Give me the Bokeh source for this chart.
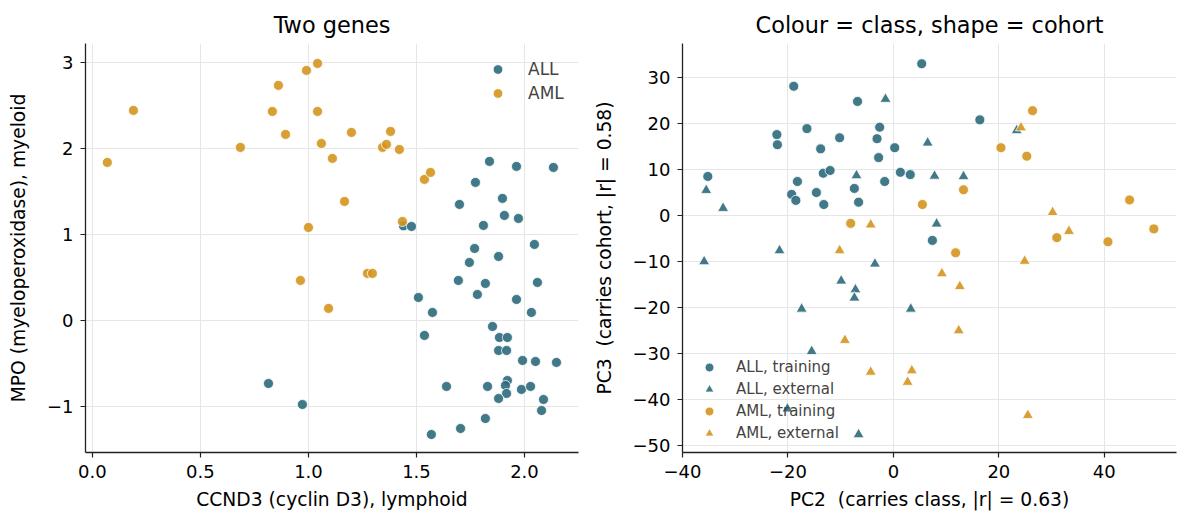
import numpy as np
from bokeh.plotting import figure
from bokeh.layouts import row
from bokeh.models import FixedTicker, Legend, LegendItem, Range1d
from bokeh.embed import file_html
from bokeh.resources import INLINE

# left panel: two genes, coloured by class
all_ccnd3 = [1.44, 1.477, 1.838, 1.963, 2.134, 1.773, 1.898, 1.699, 1.907, 1.972,
             1.810, 2.046, 1.769, 1.880, 1.745, 1.694, 1.819, 2.060, 1.509, 1.782,
             1.963, 1.574, 2.032, 1.852, 1.884, 1.921, 1.880, 1.917, 1.537, 1.991,
             2.051, 2.148, 0.815, 0.972, 1.639, 1.829, 1.921, 1.912, 1.917, 1.880,
             1.986, 2.028, 2.088, 2.079, 1.819, 1.704, 1.569]
all_mpo = [1.10, 1.093, 1.849, 1.791, 1.779, 1.605, 1.419, 1.349, 1.221, 1.186,
           1.105, 0.884, 0.837, 0.744, 0.674, 0.465, 0.430, 0.442, 0.267, 0.302,
           0.244, 0.093, 0.093, -0.070, -0.198, -0.198, -0.349, -0.349, -0.174, -0.465,
           -0.477, -0.488, -0.733, -0.977, -0.767, -0.767, -0.698, -0.756, -0.849, -0.907,
           -0.802, -0.767, -0.919, -1.047, -1.140, -1.256, -1.326]
aml_ccnd3 = [0.069, 0.190, 0.685, 0.833, 0.861, 0.894, 0.991, 1.042, 1.042, 1.060,
             1.111, 1.199, 1.167, 1.000, 0.963, 1.093, 1.273, 1.296, 1.343, 1.361,
             1.380, 1.421, 1.537, 1.565, 1.435]
aml_mpo = [1.837, 2.442, 2.012, 2.430, 2.733, 2.163, 2.907, 2.988, 2.430, 2.058,
           1.884, 2.186, 1.384, 1.081, 0.465, 0.140, 0.547, 0.547, 2.012, 2.047,
           2.198, 1.988, 1.640, 1.721, 1.151]

# right panel: PC2 vs PC3, colour = class, shape = cohort
all_train_pc2 = [5.37, -18.9, -6.8, -22.1, -22.0, -16.4, -10.2, -13.8, -2.6, -3.1,
                 0.25, -2.8, -35.2, -13.3, -12.0, -18.2, -19.3, -18.5, -14.6, -13.2,
                 -7.4, -6.6, -1.65, 1.33, 3.2, 7.4, 16.4]
all_train_pc3 = [32.9, 28.0, 24.7, 17.5, 15.3, 18.8, 16.8, 14.4, 19.1, 16.6,
                 14.65, 12.5, 8.4, 9.1, 9.7, 7.3, 4.5, 3.2, 4.9, 2.3,
                 5.8, 2.8, 7.3, 9.3, 8.8, -5.5, 20.7]
all_ext_pc2 = [-1.5, 6.5, -35.5, -32.3, -7.0, 7.8, 8.2, -21.6, -35.9, -3.5,
               -9.9, -7.2, -7.4, -17.4, 3.3, -15.5, -20.1, -6.6, 23.4, 13.3]
all_ext_pc3 = [25.2, 15.7, 5.4, 1.5, 8.6, 8.5, -1.9, -7.7, -10.1, -10.6,
               -14.3, -16.2, -18.0, -20.4, -20.4, -29.6, -42.1, -47.7, 18.4, 8.4]
aml_train_pc2 = [5.5, -8.1, 26.4, 20.4, 25.3, 13.3, 11.8, 31.0, 40.7, 44.8, 49.4]
aml_train_pc3 = [2.3, -1.8, 22.7, 14.65, 12.8, 5.5, -8.2, -4.9, -5.8, 3.3, -3.0]
aml_ext_pc2 = [-4.3, -10.2, -9.2, -4.3, 3.5, 2.7, 24.2, 9.2, 12.6, 12.4,
               24.9, 30.2, 33.3, 25.5]
aml_ext_pc3 = [-2.1, -7.7, -27.2, -34.1, -33.8, -36.3, 19.0, -12.7, -15.5, -25.1,
               -10.0, 0.6, -3.5, -43.5]

TEAL = "#2c6a7c"
GOLD = "#d4951f"
FONT = "DejaVu Sans"
MINUS = "\u2212"
NBSP = "\u00a0"


def style(p, xticks, yticks):
    p.outline_line_color = None
    p.background_fill_color = "white"
    p.border_fill_color = "white"
    p.title.text_font = FONT
    p.title.text_font_size = "22.4px"
    p.title.text_font_style = "normal"
    p.title.align = "center"
    p.title.text_color = "black"
    p.title.standoff = 11
    for ax in (p.xaxis[0], p.yaxis[0]):
        ax.axis_label_text_font = FONT
        ax.axis_label_text_font_size = "18.7px"
        ax.axis_label_text_font_style = "normal"
        ax.axis_label_text_color = "black"
        ax.major_label_text_font = FONT
        ax.major_label_text_font_size = "18px"
        ax.major_label_text_color = "black"
        ax.major_label_standoff = 7
        ax.axis_line_color = "#222222"
        ax.axis_line_width = 1.3
        ax.major_tick_line_color = "#222222"
        ax.major_tick_line_width = 1.2
        ax.major_tick_out = 5
        ax.major_tick_in = 0
        ax.minor_tick_line_color = None
    p.xaxis[0].axis_label_standoff = 8
    p.yaxis[0].axis_label_standoff = 15
    p.xaxis[0].ticker = FixedTicker(ticks=xticks)
    p.yaxis[0].ticker = FixedTicker(ticks=yticks)
    p.grid.grid_line_color = "#e6e6e6"
    p.grid.grid_line_width = 1


# ---- left figure
p1 = figure(frame_width=493, frame_height=409, min_border_left=85, min_border_right=12,
            min_border_top=43, min_border_bottom=60,
            x_range=Range1d(-0.032, 2.25), y_range=Range1d(-1.535, 3.22),
            title="Two genes", toolbar_location=None, output_backend="svg")
style(p1, [0, 0.5, 1.0, 1.5, 2.0], [-1, 0, 1, 2, 3])
p1.xaxis[0].major_label_overrides = {0: "0.0", 0.5: "0.5", 1.0: "1.0", 1.5: "1.5", 2.0: "2.0"}
p1.yaxis[0].major_label_overrides = {-1: MINUS + "1"}
p1.xaxis.axis_label = "CCND3 (cyclin D3), lymphoid"
p1.yaxis.axis_label = "MPO (myeloperoxidase), myeloid"

r_all = p1.scatter(all_ccnd3, all_mpo, size=10, fill_color=TEAL, fill_alpha=0.9,
                   line_color="white", line_width=0.8)
r_aml = p1.scatter(aml_ccnd3, aml_mpo, size=10, fill_color=GOLD, fill_alpha=0.9,
                   line_color="white", line_width=0.8)
leg1 = Legend(items=[LegendItem(label="ALL", renderers=[r_all]),
                     LegendItem(label="AML", renderers=[r_aml])],
              location=(400, 347), border_line_color=None, background_fill_alpha=0.0,
              label_text_font=FONT, label_text_font_size="17px",
              glyph_width=25, glyph_height=24, label_standoff=18, spacing=0,
              padding=0, margin=0)
p1.add_layout(leg1)

# ---- right figure
p2 = figure(frame_width=494, frame_height=409, min_border_left=91, min_border_right=5,
            min_border_top=43, min_border_bottom=60,
            x_range=Range1d(-40.0, 53.7), y_range=Range1d(-51.6, 37.3),
            title="Colour = class, shape = cohort", toolbar_location=None,
            output_backend="svg")
style(p2, [-40, -20, 0, 20, 40], [-50, -40, -30, -20, -10, 0, 10, 20, 30])
p2.xaxis[0].major_label_overrides = {-40: MINUS + "40", -20: MINUS + "20"}
p2.yaxis[0].major_label_overrides = {v: MINUS + str(-v) for v in [-50, -40, -30, -20, -10]}
p2.xaxis.axis_label = "PC2" + NBSP + " (carries class, |r| = 0.63)"
p2.yaxis.axis_label = "PC3" + NBSP + " (carries cohort, |r| = 0.58)"

g1 = p2.scatter(all_train_pc2, all_train_pc3, marker="circle", size=10,
                fill_color=TEAL, fill_alpha=0.9, line_color="white", line_width=0.8)
g2 = p2.scatter(all_ext_pc2, all_ext_pc3, marker="triangle", size=11,
                fill_color=TEAL, fill_alpha=0.9, line_color="white", line_width=0.8)
g3 = p2.scatter(aml_train_pc2, aml_train_pc3, marker="circle", size=10,
                fill_color=GOLD, fill_alpha=0.9, line_color="white", line_width=0.8)
g4 = p2.scatter(aml_ext_pc2, aml_ext_pc3, marker="triangle", size=11,
                fill_color=GOLD, fill_alpha=0.9, line_color="white", line_width=0.8)
leg2 = Legend(items=[LegendItem(label="ALL, training", renderers=[g1]),
                     LegendItem(label="ALL, external", renderers=[g2]),
                     LegendItem(label="AML, training", renderers=[g3]),
                     LegendItem(label="AML, external", renderers=[g4])],
              location=(15, 8), border_line_color=None, background_fill_alpha=0.0,
              label_text_font=FONT, label_text_font_size="15px",
              glyph_width=24, glyph_height=22, label_standoff=15, spacing=0,
              padding=0, margin=0)
p2.add_layout(leg2)

p = row(p1, p2, spacing=0)
open("out.html", "w").write(file_html(p, INLINE))
